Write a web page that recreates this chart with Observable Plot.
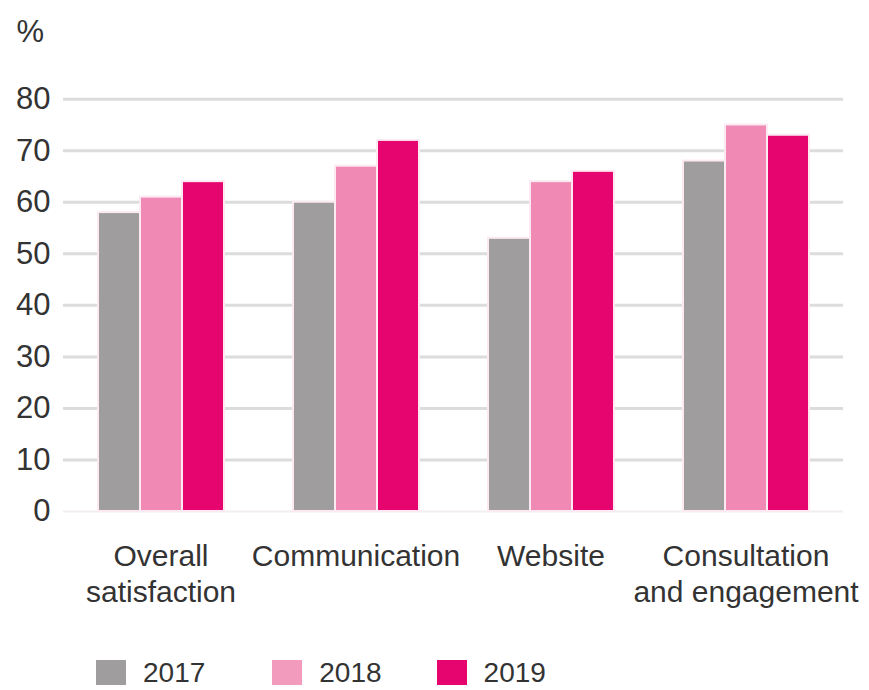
<!DOCTYPE html>
<html><head><meta charset="utf-8">
<script src="https://cdn.jsdelivr.net/npm/d3@7"></script>
<script src="https://cdn.jsdelivr.net/npm/@observablehq/plot@0.6"></script>
<style>
body{margin:0;background:#fff;font-family:"Liberation Sans",Arial,sans-serif;overflow:hidden;}
#chart svg{display:block;}
#legend{display:flex;align-items:center;margin-left:96px;margin-top:20px;font-size:28px;color:#333;line-height:25px;height:25px;}
#legend .item{display:flex;align-items:center;}
#legend .item:nth-child(2){margin-left:67px;}
#legend .item:nth-child(3){margin-left:55px;}
#legend .sw{width:30px;height:25px;margin-right:17px;}
</style></head><body><div id="chart"></div><div id="legend"></div>
<script>
const categories = ["Overall\nsatisfaction", "Communication", "Website", "Consultation\nand engagement"];
const years = ["2017", "2018", "2019"];
const values2017 = [58, 60, 53, 68];
const values2018 = [61, 67, 64, 75];
const values2019 = [64, 72, 66, 73];
const colors = ["#9f9d9e", "#f08ab5", "#e6056f"];
const legendColors = ["#9f9d9e", "#f39bbd", "#e6056f"];
const yTicks = [0, 10, 20, 30, 40, 50, 60, 70, 80];
const yLabel = "%";

const series = [values2017, values2018, values2019];
const data = [];
categories.forEach((c, i) => years.forEach((y, j) => data.push({category: c, year: y, value: series[j][i]})));

const chart = Plot.plot({
  width: 869, height: 640,
  marginTop: 98.7, marginBottom: 129, marginLeft: 62, marginRight: 26,
  style: {fontFamily: "Liberation Sans, Arial, sans-serif", color: "#333", background: "#fff"},
  fx: {domain: categories, padding: 0, label: null},
  x: {domain: years, paddingInner: 0, paddingOuter: 0.785, align: 0.5, axis: null},
  y: {domain: [0, 80], axis: null},
  color: {domain: years, range: colors},
  marks: [
    Plot.ruleY(yTicks.filter(d => d > 0), {stroke: "#dcdcdc", strokeWidth: 3}),
    Plot.ruleY([0], {stroke: "#f3eef0", strokeWidth: 2}),
    Plot.barY(data, {fx: "category", x: "year", y: "value", fill: "year", stroke: "#fde9f1", strokeWidth: 2}),
    Plot.axisY(yTicks, {tickSize: 0, tickPadding: 13, fontSize: 31, label: null, fill: "#333"}),
    Plot.text([yLabel], {frameAnchor: "top-left", facetAnchor: "left", textAnchor: "start", lineAnchor: "middle", dx: -47, dy: -67, fontSize: 31, fill: "#333"}),
    Plot.axisFx({anchor: "bottom", tickSize: 0, tickPadding: 28, fontSize: 30, lineHeight: 1.22, label: null, fill: "#333"})
  ]
});
document.getElementById("chart").appendChild(chart);

const legend = document.getElementById("legend");
years.forEach((y, i) => {
  const item = document.createElement("div");
  item.className = "item";
  item.innerHTML = `<div class="sw" style="background:${legendColors[i]}"></div><span>${y}</span>`;
  legend.appendChild(item);
});
</script>
</body></html>
